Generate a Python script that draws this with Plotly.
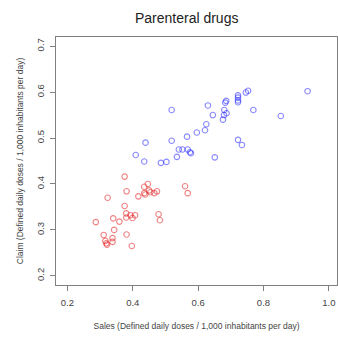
import plotly.graph_objects as go

# Blue series (higher claim)
blue_sales = [0.409, 0.439, 0.435, 0.486, 0.503, 0.519, 0.519, 0.535, 0.541, 0.552,
              0.568, 0.575, 0.578, 0.566, 0.596, 0.621, 0.625, 0.630, 0.645, 0.651,
              0.676, 0.680, 0.687, 0.679, 0.686, 0.683, 0.722, 0.722, 0.722, 0.722,
              0.746, 0.753, 0.769, 0.722, 0.734, 0.853, 0.935]
blue_claim = [0.463, 0.490, 0.449, 0.446, 0.448, 0.561, 0.494, 0.459, 0.475, 0.475,
              0.475, 0.469, 0.467, 0.503, 0.512, 0.517, 0.530, 0.571, 0.550, 0.458,
              0.540, 0.561, 0.554, 0.550, 0.581, 0.577, 0.593, 0.588, 0.582, 0.578,
              0.599, 0.603, 0.561, 0.496, 0.485, 0.548, 0.602]

# Red series (lower claim)
red_sales = [0.375, 0.446, 0.435, 0.381, 0.450, 0.454, 0.474, 0.466, 0.435, 0.438,
             0.417, 0.323, 0.560, 0.568, 0.375, 0.380, 0.380, 0.393, 0.407, 0.399,
             0.479, 0.483, 0.340, 0.359, 0.287, 0.343, 0.381, 0.311, 0.338, 0.338,
             0.316, 0.319, 0.321, 0.397]
red_claim = [0.416, 0.400, 0.394, 0.384, 0.386, 0.382, 0.384, 0.380, 0.380, 0.377,
             0.373, 0.370, 0.395, 0.380, 0.352, 0.336, 0.327, 0.332, 0.332, 0.326,
             0.334, 0.321, 0.325, 0.318, 0.317, 0.300, 0.290, 0.289, 0.282, 0.274,
             0.276, 0.271, 0.268, 0.265]

x_ticks = [0.2, 0.4, 0.6, 0.8, 1.0]
x_ticklabels = ["0.2", "0.4", "0.6", "0.8", "1.0"]
y_ticks = [0.2, 0.3, 0.4, 0.5, 0.6, 0.7]
y_ticklabels = ["0.2", "0.3", "0.4", "0.5", "0.6", "0.7"]

FONT = "Liberation Sans, Arial, Helvetica, sans-serif"

fig = go.Figure()
fig.add_trace(go.Scatter(
    x=blue_sales, y=blue_claim, mode="markers",
    marker=dict(symbol="circle-open", size=5.5, color="rgba(40,40,255,0.55)",
                line=dict(width=1.1, color="rgba(40,40,255,0.55)")),
    showlegend=False))
fig.add_trace(go.Scatter(
    x=red_sales, y=red_claim, mode="markers",
    marker=dict(symbol="circle-open", size=5.5, color="rgba(225,30,30,0.55)",
                line=dict(width=1.1, color="rgba(225,30,30,0.55)")),
    showlegend=False))

axis_common = dict(
    showgrid=False, zeroline=False, showline=True, mirror=True,
    linecolor="#808080", linewidth=1.2,
    ticks="outside", ticklen=5, tickwidth=1.2, tickcolor="#808080",
    tickfont=dict(family=FONT, size=9.5, color="#444444"),
)

fig.update_layout(
    width=338, height=345,
    margin=dict(l=56, r=1, t=37, b=60),
    paper_bgcolor="white", plot_bgcolor="white",
    font=dict(family=FONT),
    title=dict(text="Parenteral drugs", x=186.7 / 338, xref="container", xanchor="center",
               y=1 - 18 / 345, yref="container", yanchor="middle",
               font=dict(family=FONT, size=14, color="#222222")),
    xaxis=dict(range=[0.165, 1.025], tickvals=x_ticks, ticktext=x_ticklabels,
               ticklabelstandoff=3,
               title=dict(text="Sales (Defined daily doses / 1,000 inhabitants per day)",
                          font=dict(family=FONT, size=8.5, color="#444444"),
                          standoff=16),
               **axis_common),
    yaxis=dict(range=[0.180, 0.720], tickvals=y_ticks, ticktext=y_ticklabels,
               tickangle=-90, ticklabelstandoff=2,
               title=dict(text="Claim (Defined daily doses / 1,000 inhabitants per day)",
                          font=dict(family=FONT, size=8.5, color="#444444"),
                          standoff=10),
               **axis_common),
)

fig.write_html("out.html")
